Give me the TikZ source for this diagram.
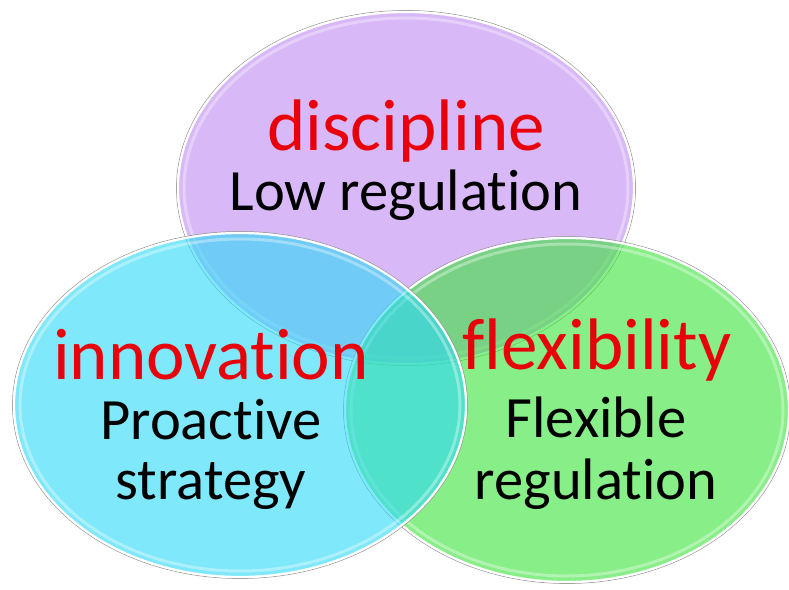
\documentclass[tikz,border=0pt]{standalone}
\usepackage{fontspec}
\setmainfont[Ligatures={NoCommon}]{Carlito}
\definecolor{purpleC}{RGB}{190,137,243}
\definecolor{greenC}{RGB}{57,227,57}
\definecolor{cyanC}{RGB}{43,217,247}
\definecolor{redT}{RGB}{232,0,10}
\begin{document}
\begin{tikzpicture}[x=1pt,y=-1pt,
  blob/.style={fill opacity=0.6},
  rimout/.style={draw=black!40,line width=0.7pt},
  rim/.style={draw=white,line width=2.2pt},
  gloss/.style={draw=white,draw opacity=0.35,line width=3pt},
  head/.style={font=\fontsize{73}{73}\selectfont,text=redT,anchor=base,inner sep=0pt},
  body/.style={font=\fontsize{58.5}{58.5}\selectfont,text=black,anchor=base,inner sep=0pt}]
\useasboundingbox (0,0) rectangle (789,589);
\fill[white] (0,0) rectangle (789,589);
% purple
\fill[purpleC,blob] (406,188) ellipse [x radius=228, y radius=176];
\draw[rimout] (406,188) ellipse [x radius=229.5, y radius=177.5];
\draw[rim] (406,188) ellipse [x radius=228, y radius=176];
\draw[gloss] (406,188) ellipse [x radius=222, y radius=170];
% green
\fill[greenC,blob] (567,410) ellipse [x radius=222, y radius=172];
\draw[rimout] (567,410) ellipse [x radius=223.5, y radius=173.5];
\draw[rim] (567,410) ellipse [x radius=222, y radius=172];
\draw[gloss] (567,410) ellipse [x radius=216, y radius=166];
% cyan
\fill[cyanC,blob] (240,405) ellipse [x radius=226, y radius=172];
\draw[rimout] (240,405) ellipse [x radius=227.5, y radius=173.5];
\draw[rim] (240,405) ellipse [x radius=226, y radius=172];
\draw[gloss] (240,405) ellipse [x radius=220, y radius=166];
% texts
\node[head] (disc) at (406,150) {discipline};
\node[body] (low) at (406,210) {Low regulation};
\node[head] (inno) at (211,379) {innovation};
\node[body] (proa) at (211,439) {Proactive};
\node[body] (strat) at (211,499) {strategy};
\node[head] (flex) at (597,369) {flexibility};
\node[body] (flexb) at (596,437) {Flexible};
\node[body] (regu) at (596,499) {regulation};
\end{tikzpicture}
\end{document}
